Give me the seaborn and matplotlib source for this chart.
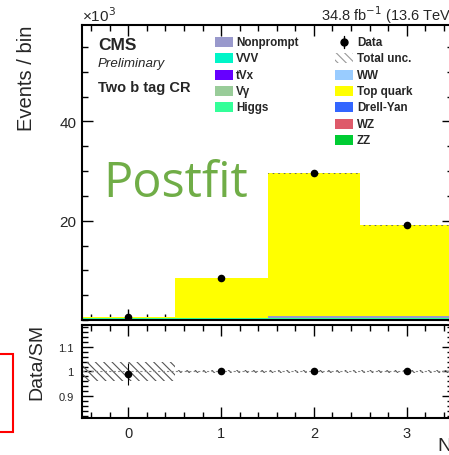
import numpy as np
import pandas as pd
import matplotlib
matplotlib.use("Agg")
import matplotlib.pyplot as plt
import seaborn as sns
from matplotlib.patches import Rectangle
from matplotlib.lines import Line2D
from matplotlib.ticker import MultipleLocator, FixedLocator, NullFormatter

# ---------------- data (x10^3 events) ----------------
nb_bins = [0, 1, 2, 3]
bin_edges = [-0.5, 0.5, 1.5, 2.5, 3.5]
zz_vals = [0.10, 0.10, 0.10, 0.10]
higgs_vals = [0.25, 0.25, 0.25, 0.25]
nonprompt_vals = [0.00, 0.00, 0.40, 0.40]
top_vals = [0.20, 8.10, 28.75, 18.35]
data_vals = [0.545, 8.45, 29.50, 19.10]
tot_unc = [0.022, 0.05, 0.18, 0.115]
ratio_err = [0.045, 0.010, 0.006, 0.007]

x_ticklabels = ["0", "1", "2", "3"]
ratio_ticks = [0.9, 1.0, 1.1]
ratio_ticklabels = ["0.9", "1", "1.1"]

legend_col1 = ["Nonprompt", "VVV", "tVx", "Vγ", "Higgs"]
legend_col1_colors = ["#9999cc", "#00f5c8", "#6600ff", "#99cc99", "#33ff99"]
legend_col2 = ["WW", "Top quark", "Drell-Yan", "WZ", "ZZ"]
legend_col2_colors = ["#99ccff", "#ffff00", "#3366ff", "#de5a6a", "#00cc33"]

stack_colors = {"ZZ": "#00cc33", "Higgs": "#33ff99",
                "Nonprompt": "#9999cc", "Top quark": "#ffff00"}

# ---------------- figure ----------------
W, H = 449, 456
sns.set_theme(style="ticks")
plt.rcParams["font.family"] = ["Liberation Sans", "DejaVu Sans"]
plt.rcParams["hatch.linewidth"] = 0.8
fig = plt.figure(figsize=(W / 100, H / 100), dpi=100)

def fx(x):
    return x / W

def fy(y):
    return 1 - y / H

ax = fig.add_axes([fx(82), fy(321), (453 - 82) / W, (321 - 26) / H])
rax = fig.add_axes([fx(82), fy(419), (453 - 82) / W, (419 - 326) / H])

rows = []
for proc, vals in [("ZZ", zz_vals), ("Higgs", higgs_vals),
                   ("Nonprompt", nonprompt_vals), ("Top quark", top_vals)]:
    for b, v in zip(nb_bins, vals):
        rows.append({"nb": b, "proc": proc, "w": v})
df = pd.DataFrame(rows)

hue_order = ["Top quark", "Nonprompt", "Higgs", "ZZ"]
sns.histplot(data=df, x="nb", weights="w", hue="proc", hue_order=hue_order,
             multiple="stack", bins=bin_edges, palette=stack_colors,
             element="bars", linewidth=0, edgecolor="none", alpha=1,
             legend=False, ax=ax)

total = np.array(zz_vals) + np.array(higgs_vals) + np.array(nonprompt_vals) + np.array(top_vals)
unc = np.array(tot_unc)
xs = np.array(bin_edges)
ax.fill_between(xs, np.append(total - unc, (total - unc)[-1]),
                np.append(total + unc, (total + unc)[-1]), step="post",
                facecolor="none", edgecolor="#666666", hatch="\\\\\\\\\\\\",
                linewidth=0)

ddf = pd.DataFrame({"nb": nb_bins, "y": data_vals})
sns.scatterplot(data=ddf, x="nb", y="y", color="black", s=30,
                edgecolor="black", linewidth=0, ax=ax, zorder=5)

ax.set_xlim(-0.5, 3.5)
ax.set_ylim(0, 59.4)
ax.set_xlabel("")
ax.set_ylabel("")
ax.xaxis.set_major_locator(MultipleLocator(1))
ax.xaxis.set_minor_locator(MultipleLocator(0.2))
ax.xaxis.set_major_formatter(NullFormatter())
ax.yaxis.set_major_locator(FixedLocator([20, 40]))
ax.yaxis.set_minor_locator(MultipleLocator(5))
ax.set_yticklabels(["20", "40"])

# ratio panel
ratio = np.array(data_vals) / total
r_unc = unc / total
rax.fill_between(xs, np.append(1 - r_unc, (1 - r_unc)[-1]),
                 np.append(1 + r_unc, (1 + r_unc)[-1]), step="post",
                 facecolor="none", edgecolor="#555555", hatch="\\\\\\\\",
                 linewidth=0)
rax.axhline(1.0, color="#888888", lw=0.8, ls=(0, (2, 2)))
rax.errorbar(nb_bins, ratio, yerr=ratio_err, fmt="none", ecolor="black",
             elinewidth=0.8)
rdf = pd.DataFrame({"nb": nb_bins, "r": ratio})
sns.scatterplot(data=rdf, x="nb", y="r", color="black", s=30,
                edgecolor="black", linewidth=0, ax=rax, zorder=5)
rax.set_xlim(-0.5, 3.5)
rax.set_ylim(0.81, 1.19)
rax.set_xlabel("")
rax.set_ylabel("")
rax.xaxis.set_major_locator(FixedLocator(nb_bins))
rax.set_xticklabels(x_ticklabels)
rax.xaxis.set_minor_locator(MultipleLocator(0.2))
rax.yaxis.set_major_locator(FixedLocator(ratio_ticks))
rax.set_yticklabels(ratio_ticklabels)
rax.yaxis.set_minor_locator(MultipleLocator(0.02))

for a in (ax, rax):
    for s in a.spines.values():
        s.set_linewidth(1.5)
        s.set_color("black")
    a.tick_params(which="both", direction="in", top=True, right=True,
                  color="black", width=1)
    a.tick_params(which="major", length=8)
    a.tick_params(which="minor", length=4)
ax.tick_params(axis="y", labelsize=11, pad=4)
rax.tick_params(axis="y", labelsize=8, pad=6)
rax.tick_params(axis="x", labelsize=10.5, pad=6)

# ---------------- texts ----------------
fig.text(fx(27), fy(78), "Events / bin", rotation=90, ha="center",
         va="center", fontsize=14.5)
fig.text(fx(37), fy(362), "Data/SM", rotation=90, ha="center",
         va="center", fontsize=14)
fig.text(fx(82), fy(22), "×10$^{3}$", ha="left", va="baseline", fontsize=11)
fig.text(fx(456), fy(21), "34.8 fb$^{-1}$ (13.6 TeV)", ha="right",
         va="baseline", fontsize=10.5)
fig.text(fx(437), fy(452), "N$_{\\mathrm{b\\ jet}}$", ha="left",
         va="baseline", fontsize=14)
fig.text(fx(98), fy(45.5), "CMS", ha="left", va="center", fontsize=12.5,
         fontweight="bold")
fig.text(fx(98), fy(64.5), "Preliminary", ha="left", va="center",
         fontsize=9.6, fontstyle="italic")
fig.text(fx(98), fy(88), "Two b tag CR", ha="left", va="center",
         fontsize=10.5, fontweight="bold")
fig.text(fx(103), fy(197), "Postfit", ha="left", va="baseline",
         fontsize=35, color="#70ad47", family=["Open Sans", "DejaVu Sans"])

# ---------------- legend ----------------
step = 16.3
y0 = 43
for i, (lab, col) in enumerate(zip(legend_col1, legend_col1_colors)):
    yc = y0 + i * step
    fig.add_artist(Rectangle((fx(215), fy(yc + 5)), 18 / W, 10 / H,
                             transform=fig.transFigure, facecolor=col,
                             edgecolor="none"))
    fig.text(fx(236), fy(yc), lab, ha="left", va="center", fontsize=8.4,
             fontweight="bold")

# Data entry
fig.add_artist(Line2D([fx(344)], [fy(y0)], transform=fig.transFigure,
                      marker="o", markersize=5, color="black", linestyle="none"))
fig.add_artist(Line2D([fx(344), fx(344)], [fy(y0 - 6), fy(y0 + 6)],
                      transform=fig.transFigure, color="black", lw=1))
fig.text(fx(357), fy(y0), "Data", ha="left", va="center", fontsize=8.4,
         fontweight="bold")
# Total unc. entry
yc = y0 + step
fig.add_artist(Rectangle((fx(335), fy(yc + 5)), 18 / W, 10 / H,
                         transform=fig.transFigure, facecolor="none",
                         edgecolor="#999999", hatch="\\\\\\\\", linewidth=0))
fig.text(fx(357), fy(yc), "Total unc.", ha="left", va="center", fontsize=8.4,
         fontweight="bold")
for i, (lab, col) in enumerate(zip(legend_col2, legend_col2_colors)):
    yc = y0 + (i + 2) * step
    fig.add_artist(Rectangle((fx(335), fy(yc + 5)), 18 / W, 10 / H,
                             transform=fig.transFigure, facecolor=col,
                             edgecolor="none"))
    fig.text(fx(357), fy(yc), lab, ha="left", va="center", fontsize=8.4,
             fontweight="bold")

# red frame (annotation)
fig.add_artist(Rectangle((fx(-5), fy(433)), 18 / W, (433 - 355) / H,
                         transform=fig.transFigure, facecolor="none",
                         edgecolor="#ff0000", linewidth=1.5))

fig.savefig("out.png", dpi=100)
